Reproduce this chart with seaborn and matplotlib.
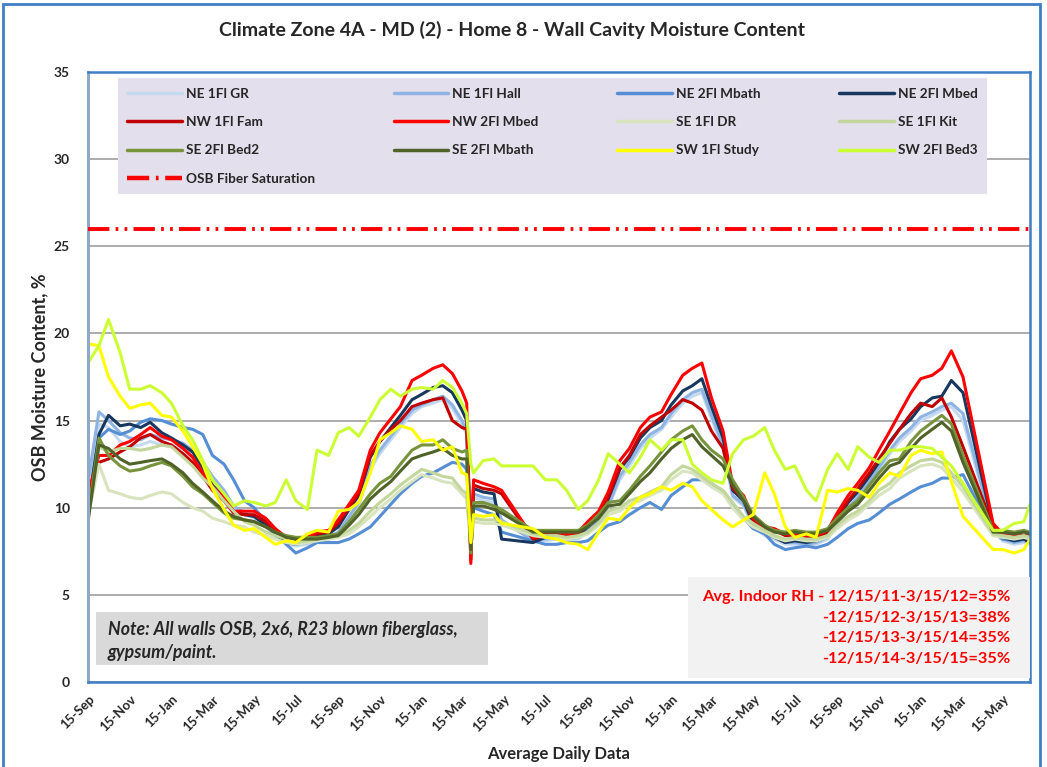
import numpy as np
import pandas as pd
import matplotlib
matplotlib.use('Agg')
import matplotlib.pyplot as plt
import matplotlib.dates as mdates
from matplotlib.lines import Line2D
from matplotlib.patches import Rectangle
import seaborn as sns

# sample dates (roughly twice a month, gaps where the loggers were off)
dates = ['2011-09-15', '2011-10-01', '2011-10-15', '2011-11-01', '2011-11-15', '2011-12-01', '2011-12-15',
         '2012-01-01', '2012-01-15', '2012-02-01', '2012-02-15', '2012-03-01', '2012-03-15',
         '2012-04-01', '2012-04-15', '2012-05-01', '2012-05-15', '2012-06-01', '2012-06-15',
         '2012-07-01', '2012-07-15', '2012-08-01', '2012-08-15', '2012-09-01', '2012-09-15',
         '2012-10-01', '2012-10-15', '2012-11-01', '2012-11-15', '2012-12-01', '2012-12-15',
         '2013-01-01', '2013-01-15', '2013-02-01', '2013-02-15', '2013-03-01', '2013-03-15',
         '2013-03-22', '2013-03-28', '2013-04-01', '2013-04-15', '2013-05-01', '2013-05-12',
         '2013-06-27', '2013-07-15', '2013-08-01', '2013-08-15', '2013-09-01', '2013-09-15',
         '2013-10-01', '2013-10-15', '2013-11-01', '2013-11-15', '2013-12-01', '2013-12-15',
         '2014-01-01', '2014-01-15', '2014-02-01', '2014-02-15', '2014-03-01', '2014-03-15',
         '2014-04-01', '2014-04-15', '2014-05-01', '2014-05-15', '2014-06-01', '2014-06-15',
         '2014-07-01', '2014-07-15', '2014-08-01', '2014-08-15', '2014-09-01', '2014-09-15',
         '2014-10-01', '2014-10-15', '2014-11-01', '2014-11-15', '2014-12-01', '2014-12-15',
         '2015-01-01', '2015-01-15', '2015-02-01', '2015-02-15', '2015-03-01', '2015-03-18',
         '2015-05-01', '2015-05-15', '2015-06-01', '2015-06-15', '2015-06-24']

ne_1fl_gr = [11.0, 14.8, 14.6, 13.8, 13.5, 13.6, 13.8, 13.6, 13.5, 13.4, 13.0, 12.4, 11.6, 10.8, 10.0, 9.6, 9.4, 8.9, 8.3, 7.9, 7.8, 7.9, 8.1, 8.2, 8.5,
             9.3, 10.1, 12.2, 13.1, 13.9, 14.6, 15.4, 15.8, 16.0, 16.2, 15.7, 14.8, 14.2, 7.8, 10.6, 10.4, 10.3, 9.2,
             8.2, 8.1, 8.2, 8.1, 8.2, 8.6, 9.2, 10.0, 11.6, 12.4, 13.4, 14.0, 14.5, 15.2, 16.0, 16.4, 16.6, 15.1, 13.4, 10.6, 10.1, 8.9, 8.4, 8.2, 7.9, 7.9,
             7.8, 7.9, 8.2, 9.0, 9.9, 10.5, 11.4, 12.1, 13.1, 13.8, 14.4, 15.0, 15.3, 15.6, 15.8, 15.0,
             8.7, 8.1, 7.9, 8.0, 7.9]
ne_1fl_hall = [11.5, 15.5, 15.0, 14.3, 14.0, 13.9, 14.2, 14.0, 13.9, 13.7, 13.3, 12.6, 11.8, 11.0, 10.1, 9.7, 9.5, 9.0, 8.4, 8.0, 7.9, 8.0, 8.2, 8.3, 8.6,
               9.5, 10.3, 12.4, 13.3, 14.1, 14.8, 15.6, 15.9, 16.2, 16.4, 15.9, 15.0, 14.4, 7.6, 10.8, 10.6, 10.5, 9.3,
               8.1, 8.2, 8.3, 8.2, 8.3, 8.7, 9.3, 10.1, 11.8, 12.6, 13.6, 14.2, 14.6, 15.4, 16.2, 16.6, 16.8, 15.3, 13.6, 10.7, 10.2, 9.0, 8.5, 8.3, 8.0, 8.0,
               7.9, 8.0, 8.3, 9.1, 10.0, 10.6, 11.5, 12.3, 13.3, 14.0, 14.6, 15.2, 15.5, 15.8, 16.0, 15.4,
               8.8, 8.2, 8.0, 8.1, 8.0]
ne_2fl_mbath = [10.0, 14.0, 14.5, 14.2, 14.4, 14.9, 15.1, 15.0, 14.8, 14.6, 14.5, 14.2, 13.0, 12.5, 11.6, 10.4, 10.0, 9.2, 8.7, 7.9, 7.4, 7.7, 8.0, 8.0, 8.0,
                8.2, 8.5, 8.9, 9.5, 10.2, 10.8, 11.4, 11.8, 12.0, 12.3, 12.6, 12.5, 12.2, 7.8, 10.0, 9.8, 9.6, 8.6,
                8.1, 7.9, 7.9, 8.0, 8.0, 8.1, 8.6, 9.0, 9.2, 9.6, 10.0, 10.3, 9.9, 10.7, 11.2, 11.6, 11.6, 11.4, 10.9, 10.2, 9.4, 8.8, 8.5, 7.9, 7.6, 7.7,
                7.8, 7.7, 7.9, 8.3, 8.8, 9.1, 9.3, 9.7, 10.2, 10.5, 10.9, 11.2, 11.4, 11.7, 11.7, 11.9,
                8.6, 8.2, 8.1, 8.2, 8.1]
ne_2fl_mbed = [10.0, 14.2, 15.3, 14.7, 14.8, 14.6, 14.9, 14.3, 14.0, 13.6, 13.2, 12.3, 11.3, 10.6, 9.8, 9.6, 9.5, 9.0, 8.5, 8.0, 7.9, 8.1, 8.4, 8.5, 8.9,
               9.9, 10.7, 12.9, 13.8, 14.6, 15.3, 16.2, 16.5, 16.9, 17.0, 16.6, 15.6, 15.0, 7.5, 11.1, 10.9, 10.8, 8.2,
               8.0, 8.3, 8.4, 8.3, 8.4, 8.9, 9.5, 10.5, 12.2, 12.9, 14.0, 14.6, 15.0, 15.9, 16.7, 17.0, 17.4, 15.8, 14.0, 11.0, 10.4, 9.1, 8.6, 8.3, 8.0, 8.1,
               8.0, 8.1, 8.4, 9.3, 10.3, 10.9, 11.8, 12.6, 13.8, 14.5, 15.1, 15.8, 16.3, 16.4, 17.3, 16.6,
               8.9, 8.3, 8.1, 8.2, 8.0]
nw_1fl_fam = [10.0, 12.6, 12.8, 13.2, 13.5, 14.0, 14.2, 13.8, 13.6, 13.1, 12.6, 11.8, 11.0, 10.4, 9.7, 9.6, 9.6, 9.2, 8.7, 8.2, 8.1, 8.2, 8.5, 8.6, 9.1,
              10.0, 10.8, 13.0, 13.8, 14.5, 15.0, 15.8, 16.0, 16.2, 16.3, 15.0, 14.6, 14.5, 7.0, 11.3, 11.1, 11.0, 10.8,
              8.2, 8.4, 8.5, 8.4, 8.5, 9.0, 9.6, 10.6, 12.3, 13.0, 14.2, 14.7, 15.2, 15.6, 16.2, 16.0, 15.6, 14.4, 13.4, 11.1, 10.5, 9.3, 8.8, 8.7, 8.4, 8.4,
              8.3, 8.3, 8.6, 9.5, 10.4, 11.1, 12.0, 12.8, 13.7, 14.5, 15.4, 16.0, 15.8, 16.3, 15.2, 13.5,
              8.9, 8.4, 8.3, 8.3, 8.2]
nw_2fl_mbed = [10.8, 13.0, 13.0, 13.6, 13.8, 14.2, 14.6, 14.1, 13.9, 13.4, 12.9, 12.0, 11.2, 10.6, 9.8, 9.8, 9.8, 9.4, 8.8, 8.3, 8.2, 8.3, 8.6, 8.7, 9.3,
               10.2, 11.0, 13.3, 14.3, 15.1, 15.8, 17.3, 17.6, 18.0, 18.2, 17.7, 16.7, 16.0, 6.8, 11.6, 11.4, 11.2, 11.0,
               8.3, 8.5, 8.6, 8.5, 8.6, 9.2, 9.8, 10.9, 12.7, 13.4, 14.6, 15.2, 15.5, 16.5, 17.6, 18.0, 18.3, 16.3, 14.4, 11.3, 10.7, 9.4, 8.9, 8.8, 8.5, 8.5,
               8.4, 8.4, 8.7, 9.7, 10.7, 11.4, 12.3, 13.3, 14.4, 15.4, 16.6, 17.4, 17.6, 18.0, 19.0, 17.5,
               9.1, 8.5, 8.4, 8.4, 8.4]
se_1fl_dr = [9.5, 12.5, 11.0, 10.8, 10.6, 10.5, 10.7, 10.9, 10.8, 10.3, 10.0, 9.8, 9.4, 9.2, 9.0, 8.9, 8.6, 8.4, 8.2, 8.0, 7.9, 8.0, 8.1, 8.2, 8.3,
             8.5, 8.9, 9.5, 10.0, 10.5, 11.0, 11.5, 11.9, 11.7, 11.5, 11.4, 10.8, 10.5, 7.9, 9.2, 9.1, 9.1, 9.0,
             8.4, 8.3, 8.3, 8.2, 8.3, 8.5, 9.0, 9.6, 9.8, 10.2, 10.4, 10.7, 11.0, 11.6, 12.1, 12.0, 11.6, 11.2, 10.8, 10.0, 9.3, 8.9, 8.6, 8.3, 8.1, 8.2,
             8.1, 8.1, 8.3, 8.8, 9.3, 9.6, 10.2, 10.7, 11.1, 11.7, 12.1, 12.4, 12.5, 12.3, 11.7, 10.9,
             8.4, 8.3, 8.2, 8.3, 8.2]
se_1fl_kit = [9.6, 13.5, 13.2, 13.4, 13.4, 13.3, 13.4, 13.6, 13.5, 12.9, 12.4, 11.7, 11.2, 10.4, 9.8, 9.2, 9.0, 8.6, 8.4, 8.2, 8.0, 8.1, 8.2, 8.3, 8.4,
              8.7, 9.1, 9.8, 10.3, 10.8, 11.3, 11.8, 12.2, 12.0, 11.8, 11.7, 11.0, 10.8, 7.8, 9.4, 9.3, 9.3, 9.2,
              8.5, 8.4, 8.4, 8.3, 8.4, 8.6, 9.1, 9.8, 10.0, 10.4, 10.6, 10.9, 11.2, 11.9, 12.4, 12.2, 11.8, 11.4, 11.0, 10.3, 9.5, 9.1, 8.7, 8.4, 8.2, 8.3,
              8.2, 8.2, 8.4, 9.0, 9.5, 9.8, 10.4, 11.0, 11.4, 12.0, 12.4, 12.7, 12.8, 12.6, 12.0, 11.2,
              8.5, 8.4, 8.3, 8.4, 8.3]
se_2fl_bed2 = [9.4, 14.0, 13.0, 12.4, 12.1, 12.2, 12.4, 12.6, 12.4, 11.8, 11.2, 10.8, 10.3, 9.7, 9.4, 9.3, 9.2, 8.9, 8.6, 8.4, 8.3, 8.3, 8.3, 8.4, 8.5,
               9.2, 9.9, 10.8, 11.4, 11.8, 12.5, 13.3, 13.6, 13.6, 13.9, 13.4, 13.2, 13.3, 7.4, 10.3, 10.3, 10.1, 9.9,
               8.7, 8.7, 8.7, 8.7, 8.7, 9.0, 9.6, 10.3, 10.4, 11.0, 11.8, 12.4, 13.2, 13.9, 14.4, 14.7, 13.9, 13.3, 12.8, 11.6, 10.6, 9.6, 9.0, 8.7, 8.6, 8.7,
               8.6, 8.6, 8.8, 9.4, 10.0, 10.4, 11.3, 12.0, 12.7, 12.8, 13.8, 14.4, 14.9, 15.3, 14.8, 13.0,
               8.7, 8.7, 8.6, 8.7, 8.6]
se_2fl_mbath = [9.2, 13.6, 13.4, 12.8, 12.5, 12.6, 12.7, 12.8, 12.5, 12.0, 11.4, 10.9, 10.4, 9.8, 9.5, 9.3, 9.2, 8.9, 8.6, 8.3, 8.2, 8.2, 8.2, 8.3, 8.4,
                9.0, 9.6, 10.5, 11.0, 11.5, 12.1, 12.8, 13.0, 13.2, 13.4, 13.0, 12.8, 12.8, 7.6, 10.1, 10.1, 9.9, 9.7,
                8.6, 8.6, 8.6, 8.6, 8.6, 8.9, 9.4, 10.1, 10.2, 10.8, 11.5, 12.0, 12.8, 13.4, 13.9, 14.2, 13.5, 13.0, 12.4, 11.3, 10.4, 9.5, 8.9, 8.6, 8.5, 8.6,
                8.5, 8.5, 8.7, 9.2, 9.8, 10.2, 11.0, 11.7, 12.4, 12.6, 13.4, 14.0, 14.5, 14.9, 14.4, 12.6,
                8.6, 8.6, 8.5, 8.6, 8.5]
sw_1fl_study = [19.4, 19.3, 17.5, 16.4, 15.7, 15.9, 16.0, 15.3, 15.2, 14.4, 13.5, 12.5, 11.1, 9.9, 9.0, 8.7, 8.8, 8.3, 7.9, 8.1, 8.0, 8.5, 8.7, 8.6, 9.8,
                9.9, 10.3, 12.0, 13.9, 14.3, 14.7, 14.5, 13.8, 13.9, 13.3, 13.5, 12.0, 11.9, 8.0, 9.6, 9.5, 9.6, 9.1,
                8.8, 8.3, 8.2, 8.0, 7.9, 7.6, 8.6, 9.4, 9.3, 10.0, 10.6, 10.8, 11.2, 11.0, 11.4, 11.2, 10.4, 9.9, 9.3, 8.9, 9.3, 9.6, 12.0, 10.8, 8.9, 8.3,
                8.5, 8.3, 11.0, 10.9, 11.1, 11.0, 10.6, 11.4, 12.0, 11.8, 13.0, 13.3, 13.1, 13.2, 11.5, 9.5,
                7.6, 7.6, 7.4, 7.6, 8.2]
sw_2fl_bed3 = [18.3, 19.3, 20.8, 18.9, 16.8, 16.8, 17.0, 16.6, 16.0, 14.7, 13.9, 12.7, 11.6, 10.8, 10.1, 10.4, 10.3, 10.1, 10.3, 11.6, 10.4, 9.9, 13.3, 13.0, 14.3,
               14.6, 14.1, 15.2, 16.2, 16.8, 16.4, 16.8, 16.9, 16.8, 17.3, 16.9, 16.0, 15.4, 12.5, 12.0, 12.7, 12.8, 12.4,
               12.4, 11.6, 11.6, 11.0, 9.9, 10.4, 11.6, 13.1, 12.5, 12.0, 12.9, 13.9, 13.3, 13.9, 13.9, 12.5, 12.0, 11.6, 11.4, 13.1, 13.9, 14.1, 14.6, 13.3, 12.2, 12.4,
               11.0, 10.4, 12.2, 13.1, 12.2, 13.5, 12.9, 12.6, 13.3, 13.3, 13.5, 13.5, 13.4, 12.9, 12.4, 11.4,
               8.7, 8.7, 9.1, 9.2, 10.2]

fiber_saturation = 26

names = ['NE 1Fl GR', 'NE 1Fl Hall', 'NE 2Fl Mbath', 'NE 2Fl Mbed',
         'NW 1Fl Fam', 'NW 2Fl Mbed', 'SE 1Fl DR', 'SE 1Fl Kit',
         'SE 2Fl Bed2', 'SE 2Fl Mbath', 'SW 1Fl Study', 'SW 2Fl Bed3']
colors = ['#C5D9F1', '#8DB4E2', '#558ED5', '#17375E',
          '#C00000', '#FF0000', '#D7E4BD', '#C3D69B',
          '#77933C', '#4F6228', '#FFFF00', '#CCFF33']
values = [ne_1fl_gr, ne_1fl_hall, ne_2fl_mbath, ne_2fl_mbed,
          nw_1fl_fam, nw_2fl_mbed, se_1fl_dr, se_1fl_kit,
          se_2fl_bed2, se_2fl_mbath, sw_1fl_study, sw_2fl_bed3]
for v in values:
    assert len(v) == len(dates)

df = pd.DataFrame(dict(zip(names, values)))
df['Date'] = pd.to_datetime(dates)
long = df.melt(id_vars='Date', var_name='Sensor', value_name='MC')

sns.set_style('white')
plt.rcParams['font.family'] = ['Lato', 'DejaVu Sans']
plt.rcParams['font.weight'] = 'bold'

fig = plt.figure(figsize=(10.47, 7.67), dpi=100)
ax = fig.add_axes([88/1047, 85/767, 942/1047, 610/767])

sns.lineplot(data=long, x='Date', y='MC', hue='Sensor', hue_order=names,
             palette=dict(zip(names, colors)), estimator=None, sort=False,
             lw=2.2, legend=False, ax=ax)
ax.axhline(fiber_saturation, color='#FF0000', lw=2.8, dashes=(5.5, 1.6, 0.7, 1.6, 0.7, 1.6), zorder=3)

ax.set_ylim(0, 35)
ax.set_yticks(range(0, 36, 5))
ax.set_xlim(pd.Timestamp('2011-09-15'), pd.Timestamp('2015-06-24'))
ax.xaxis.set_major_locator(mdates.MonthLocator(bymonth=[1, 3, 5, 7, 9, 11], bymonthday=15))
ax.xaxis.set_major_formatter(mdates.DateFormatter('%d-%b'))
plt.setp(ax.get_xticklabels(), rotation=45, ha='right', rotation_mode='anchor', fontsize=9.5, fontweight='bold')
plt.setp(ax.get_yticklabels(), fontsize=10, fontweight='bold')
ax.tick_params(axis='both', direction='out', length=5, width=1, color='#808080', pad=3)
ax.tick_params(axis='y', pad=8)

ax.yaxis.grid(True, color='#A6A6A6', lw=1.3)
ax.set_axisbelow(True)
for side in ['top', 'right', 'bottom']:
    ax.spines[side].set_color('#3F7FC4')
    ax.spines[side].set_linewidth(1.8)
ax.spines['left'].set_color('#8FA9C6')
ax.spines['left'].set_linewidth(2.2)

ax.set_xlabel('Average Daily Data', fontsize=12, fontweight='bold', labelpad=8)
ax.set_ylabel('OSB Moisture Content, %', fontsize=13, fontweight='bold', labelpad=4)
fig.text(0.489, 0.961, 'Climate Zone 4A - MD (2) - Home 8 - Wall Cavity Moisture Content',
         ha='center', va='center', fontsize=14, fontweight='bold')

# legend, filled column-wise so it reads row-wise like the original
handles = {n: Line2D([], [], color=c, lw=2.5) for n, c in zip(names, colors)}
handles['OSB Fiber Saturation'] = Line2D([], [], color='#FF0000', lw=3.2, dashes=(5, 1.5, 0.6, 1.5))
order = ['NE 1Fl GR', 'NW 1Fl Fam', 'SE 2Fl Bed2', 'OSB Fiber Saturation',
         'NE 1Fl Hall', 'NW 2Fl Mbed', 'SE 2Fl Mbath',
         'NE 2Fl Mbath', 'SE 1Fl DR', 'SW 1Fl Study',
         'NE 2Fl Mbed', 'SE 1Fl Kit', 'SW 2Fl Bed3']
leg = ax.legend([handles[o] for o in order], order, ncol=4, mode='expand',
                bbox_to_anchor=(0.0318, 0.80, 0.9226, 0.19), loc='upper left',
                prop={'weight': 'bold', 'size': 9.8}, frameon=True, fancybox=False,
                handlelength=4.0, handletextpad=0.3, labelspacing=1.2, borderpad=0.7,
                borderaxespad=0)
leg.get_frame().set_facecolor('#E4DFEC')
leg.get_frame().set_edgecolor('none')
leg.get_frame().set_alpha(1)

# text boxes
ax.add_patch(Rectangle((0.637, 0.0066), 0.363, 0.1656, transform=ax.transAxes,
                       facecolor='#F2F2F2', edgecolor='none', zorder=4))
ax.text(0.9788, 0.0885, 'Avg. Indoor RH - 12/15/11-3/15/12=35%\n-12/15/12-3/15/13=38%\n'
        '-12/15/13-3/15/14=35%\n-12/15/14-3/15/15=35%', transform=ax.transAxes,
        ha='right', va='center', multialignment='right', color='#FF0000',
        fontsize=11.8, fontweight='bold', linespacing=1.6, zorder=5)
ax.add_patch(Rectangle((0.0085, 0.0279), 0.4161, 0.0869, transform=ax.transAxes,
                       facecolor='#D9D9D9', edgecolor='none', zorder=4))
ax.text(0.0212, 0.0672, 'Note: All walls OSB, 2x6, R23 blown fiberglass,\ngypsum/paint.',
        transform=ax.transAxes, ha='left', va='center', fontsize=12.8,
        fontweight='bold', fontstyle='italic', linespacing=1.4, zorder=5)

# chart border
fig.patches.append(Rectangle((3/1047, -0.1), 1037/1047, 1.1 - 4/767, transform=fig.transFigure,
                             fill=False, edgecolor='#3F7FC4', lw=2))

fig.savefig('out.png', dpi=100)
